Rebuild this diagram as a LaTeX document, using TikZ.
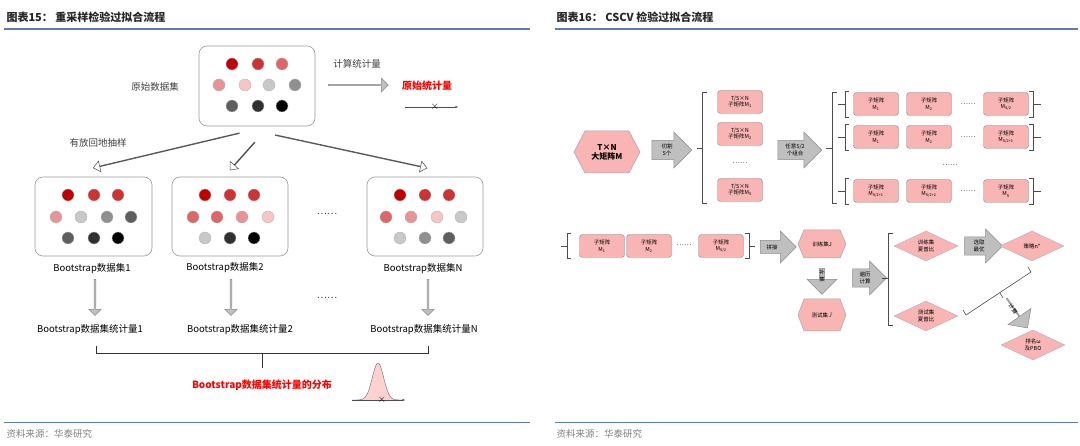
\documentclass[tikz,border=0pt]{standalone}
\usepackage{fontspec}
\setmainfont{Noto Sans CJK SC}
\usetikzlibrary{shapes.geometric,shapes.arrows,arrows.meta}
\definecolor{ra}{HTML}{C00000}\definecolor{rb}{HTML}{CC3333}\definecolor{rc}{HTML}{DD6666}
\definecolor{rd}{HTML}{E99494}\definecolor{re}{HTML}{F6C6C6}\definecolor{ga}{HTML}{C8C8C8}
\definecolor{gb}{HTML}{8F8F8F}\definecolor{gc}{HTML}{5F5F5F}\definecolor{gd}{HTML}{303030}
\definecolor{ge}{HTML}{000000}\definecolor{pinkbox}{HTML}{F9B4B4}\definecolor{arrg}{HTML}{BFBFBF}
\definecolor{titleblue}{HTML}{5B7DB0}\definecolor{txt}{HTML}{404040}
\begin{document}
\begin{tikzpicture}[x=1pt,y=-1pt,
  title/.style={anchor=west,font=\bfseries\fontsize{11}{12}\selectfont,text=black!85},
  lt/.style={font=\fontsize{9.5}{11}\selectfont,text=txt},
  dset/.style={draw=gray!80,rounded corners=8pt,line width=0.6pt},
  dt/.style={circle,draw=gray!60,line width=0.3pt,minimum size=12pt,inner sep=0pt},
  hollow/.style={single arrow,draw=black!70,fill=white,line width=0.5pt,minimum width=11pt,single arrow head extend=3pt,single arrow tip angle=80,inner sep=0pt},
  fat/.style={single arrow,draw=gray!90,fill=arrg,line width=0.5pt,inner sep=0pt},
  blk/.style={fat,minimum width=36pt,single arrow head extend=7pt,font=\fontsize{5.5}{6.5}\selectfont,align=center,inner xsep=2pt,inner ysep=2pt,minimum height=40pt},
  pbox/.style={draw=gray!90,fill=pinkbox,rounded corners=3pt,minimum width=45pt,minimum height=23pt,inner sep=0pt,font=\fontsize{5.5}{6.5}\selectfont,align=center},
  dia/.style={diamond,aspect=2.2,draw=gray!60,fill=pinkbox,minimum width=64pt,minimum height=30pt,inner sep=0pt,font=\fontsize{5.5}{6.5}\selectfont,align=center},
  hexs/.style={draw=gray!70,fill=pinkbox,line width=0.5pt},
  br/.style={draw=black!70,line width=0.6pt}]
\useasboundingbox (0,0) rectangle (1080,446);
% titles
\node[title] (t1) at (3,17) {图表15：\ 重采样检验过拟合流程};
\node[title] (t2) at (553,17) {图表16：\ CSCV 检验过拟合流程};
\draw[titleblue,line width=1.3pt] (4,29) -- (530,29);
\draw[titleblue,line width=1.3pt] (555,29) -- (1078,29);
\draw[titleblue,line width=0.8pt] (4,422) -- (530,422);
\draw[titleblue,line width=0.8pt] (555,422) -- (1078,422);
\node[anchor=west,lt,text=gray] (s1) at (3,434) {资料来源：华泰研究};
\node[anchor=west,lt,text=gray] (s2) at (553,434) {资料来源：华泰研究};
% ===== left
\draw[dset] (199,46) rectangle (315,126);
\foreach \x/\y/\c in {232/64/ra,258/64/rb,282/64/rc,219/85/rd,245/85/re,269/85/ga,295/85/gb,232/106/gc,258/106/gd,282/106/ge}
  \node[dt,fill=\c] at (\x,\y) {};
\node[lt] (orig) at (155,87) {原始数据集};
\node[lt] (calc) at (357,64) {计算统计量};
\node[fat,minimum height=60pt,minimum width=14pt,single arrow head extend=2.5pt] (ca) at (358,85) {};
\node[font=\bfseries\fontsize{10}{11}\selectfont,text=red] (ost) at (427,86) {原始统计量};
\coordinate (la) at (405,107); \coordinate (lb) at (458,107);
\draw[black!70,line width=0.4pt,-{Stealth[length=3pt]}] (la) -- (lb);
\node[font=\bfseries\fontsize{11}{11}\selectfont,inner sep=0pt] (x1) at (435,107) {$\times$};
\node[lt] (sample) at (98,143) {有放回地抽样};
\coordinate (a1s) at (240,133); \coordinate (a1e) at (93,168);
\coordinate (a2s) at (255,142); \coordinate (a2e) at (230,170);
\coordinate (a3s) at (275,135); \coordinate (a3e) at (427,168);
\path (a1s) -- (a1e) node[midway,sloped,allow upside down,hollow,minimum height=150pt] {};
\path (a2s) -- (a2e) node[midway,sloped,allow upside down,hollow,minimum height=37pt] {};
\path (a3s) -- (a3e) node[midway,sloped,allow upside down,hollow,minimum height=155pt] {};
\draw[dset] (35,177) rectangle (152,256);
\draw[dset] (172,177) rectangle (288,256);
\draw[dset] (367,177) rectangle (483,256);
\foreach \x/\y/\c in {68/195/ra,94/195/rb,118/195/rb,56/217/rd,81/217/ga,107/217/gb,131/217/gc,68/238/gc,94/238/gd,118/238/ge,
  205/195/ra,230/195/rb,254/195/rb,193/217/rc,217/217/rc,242/217/rd,268/217/re,205/238/ga,230/238/gd,254/238/ge,
  400/195/ra,425/195/rb,449/195/rb,386/217/rc,411/217/rd,437/217/re,461/217/ga,400/238/ga,425/238/gb,449/238/gc}
  \node[dt,fill=\c] at (\x,\y) {};
\node[lt] (d1) at (327,214) {……};
\node[font=\fontsize{9.5}{11}\selectfont] (b1) at (92,269) {Bootstrap数据集1};
\node[font=\fontsize{9.5}{11}\selectfont] (b2) at (225,268) {Bootstrap数据集2};
\node[font=\fontsize{9.5}{11}\selectfont] (b3) at (423,269) {Bootstrap数据集N};
\foreach \x/\n in {95/v1,231/v2,428/v3}
  \node[fat,rotate=-90,minimum height=36pt,minimum width=12pt,single arrow head extend=1.5pt] (\n) at (\x,297) {};
\node[lt] (d2) at (327,298) {……};
\node[font=\fontsize{9.5}{11}\selectfont] (c1) at (90,330) {Bootstrap数据集统计量1};
\node[font=\fontsize{9.5}{11}\selectfont] (c2) at (240,330) {Bootstrap数据集统计量2};
\node[font=\fontsize{9.5}{11}\selectfont] (c3) at (424,330) {Bootstrap数据集统计量N};
\draw[black!80,line width=1pt] (96,346) -- (96,354) -- (428,354) -- (428,346);
\draw[black!80,line width=1pt] (262,354) -- (262,368);
\node[font=\bfseries\fontsize{10}{11}\selectfont,text=red] (dist) at (262,385) {Bootstrap数据集统计量的分布};
\fill[pink!70] plot[domain=-26:26,samples=60] ({378+\x},{400-37*exp(-(\x/8)^2)}) -- cycle;
\draw[black!60,line width=0.4pt] plot[domain=-26:26,samples=60] ({378+\x},{400-37*exp(-(\x/8)^2)});
\coordinate (bl) at (352,400); \coordinate (brr) at (405,400);
\draw[black!70,line width=0.4pt,-{Stealth[length=3pt]}] (bl) -- (brr);
\node[font=\bfseries\fontsize{11}{11}\selectfont,inner sep=0pt] (x2) at (382,400) {$\times$};
% ===== right
\begin{scope}[shift={(607,152)}]
\draw[hexs] (-33,0) -- (-22,-21) -- (22,-21) -- (33,0) -- (22,21) -- (-22,21) -- cycle;
\node[font=\bfseries\fontsize{8}{9}\selectfont,align=center] (M) at (0,0) {T×N\\大矩阵M};
\end{scope}
\node[blk] (cut) at (667,150) {切割\\S个\hspace{6pt}};
\draw[br] (707,92) -- (702,92) -- (702,203) -- (707,203); \draw[br] (697,148) -- (702,148);
\node[pbox] (m1) at (740,102) {T/S×N\\子矩阵M\textsubscript{1}};
\node[pbox] (m2) at (740,134) {T/S×N\\子矩阵M\textsubscript{2}};
\node[font=\fontsize{7}{7}\selectfont] (md) at (740,163) {……};
\node[pbox] (ms) at (740,190) {T/S×N\\子矩阵M\textsubscript{S}};
\node[blk,minimum height=44pt] (comb) at (795,150) {任意S/2\\个组合\hspace{8pt}};
\draw[br] (837,92) -- (832,92) -- (832,203) -- (837,203); \draw[br] (826,148) -- (832,148);
\foreach \y/\r/\a/\b/\c in {104/r1/M\textsubscript{1}/M\textsubscript{2}/M\textsubscript{S/2},137/r2/M\textsubscript{1}/M\textsubscript{2}/M\textsubscript{S/2+1},191/r3/M\textsubscript{S/2+1}/M\textsubscript{S/2+2}/M\textsubscript{S}}{
  \draw[br] (849,\y-13) -- (845,\y-13) -- (845,\y+13) -- (849,\y+13); \draw[br] (838,\y) -- (845,\y);
  \draw[br] (1029,\y-13) -- (1033,\y-13) -- (1033,\y+13) -- (1029,\y+13); \draw[br] (1033,\y) -- (1041,\y);
  \node[pbox] (\r a) at (876,\y) {子矩阵\\\a};
  \node[pbox] (\r b) at (929,\y) {子矩阵\\\b};
  \node[font=\fontsize{7}{7}\selectfont] (\r d) at (968,\y) {……};
  \node[pbox] (\r c) at (1006,\y) {子矩阵\\\c};
}
\node[font=\fontsize{7}{7}\selectfont] (rdd) at (950,165) {……};
% row 4
\draw[br] (571,233) -- (567,233) -- (567,258) -- (571,258); \draw[br] (561,246) -- (567,246);
\node[pbox] (n1) at (602,246) {子矩阵\\M\textsubscript{1}};
\node[pbox] (n2) at (649,246) {子矩阵\\M\textsubscript{2}};
\node[font=\fontsize{7}{7}\selectfont] (nd) at (684,245) {……};
\node[pbox] (n3) at (721,246) {子矩阵\\M\textsubscript{S/2}};
\draw[br] (745,233) -- (749,233) -- (749,258) -- (745,258); \draw[br] (749,246) -- (755,246);
\node[blk,minimum height=36pt,minimum width=32pt] (join) at (775,247) {拼接\hspace{6pt}};
\begin{scope}[shift={(822,244)}]
\draw[hexs] (-24,0) -- (-18,-14) -- (18,-14) -- (24,0) -- (18,14) -- (-18,14) -- cycle;
\node[font=\fontsize{5.5}{6.5}\selectfont] (train) at (0,0) {训练集\textit{J}};
\end{scope}
\node[fat,rotate=-90,minimum height=26pt,minimum width=30pt,single arrow head extend=6pt,inner ysep=1pt,inner xsep=5pt] (compl) at (822,280) {};
\node[font=\fontsize{5.5}{6.5}\selectfont,align=center] (compt) at (822,276) {补\\集};
\begin{scope}[shift={(822,315)}]
\draw[hexs] (-24,0) -- (-18,-16) -- (18,-16) -- (24,0) -- (18,16) -- (-18,16) -- cycle;
\node[font=\fontsize{5.5}{6.5}\selectfont] (test) at (0,0) {测试集$\bar{J}$};
\end{scope}
\node[blk,minimum height=34pt,minimum width=34pt] (trav) at (865,278) {遍历\\计算\hspace{6pt}};
\draw[br] (893,233) -- (888,233) -- (888,325) -- (893,325); \draw[br] (882,278) -- (888,278);
\node[dia] (ds1) at (926,246) {训练集\\夏普比};
\node[blk,minimum height=38pt,minimum width=34pt] (best) at (979,246) {选取\\最优\hspace{6pt}};
\node[dia] (nst) at (1032,246) {策略n*};
\node[dia] (ds2) at (926,316) {测试集\\夏普比};
\coordinate (k1) at (1028,267); \coordinate (k2) at (1031,272); \coordinate (k3) at (966,315); \coordinate (k4) at (963,310);
\draw[br] (k1) -- (k2) -- (k3) -- (k4);
\coordinate (kt) at (1000,293);
\draw[br] (kt) -- ++(3,5);
\node[fat,rotate=-55,minimum height=36pt,minimum width=28pt,single arrow head extend=6pt,inner sep=0pt] (rank) at (1017,313) {};
\node[font=\fontsize{5.5}{6.5}\selectfont,rotate=-55] (rankt) at (1013,309) {计算};
\node[dia] (pbo) at (1033,345) {排名ω\\及PBO};
\end{tikzpicture}
\end{document}
